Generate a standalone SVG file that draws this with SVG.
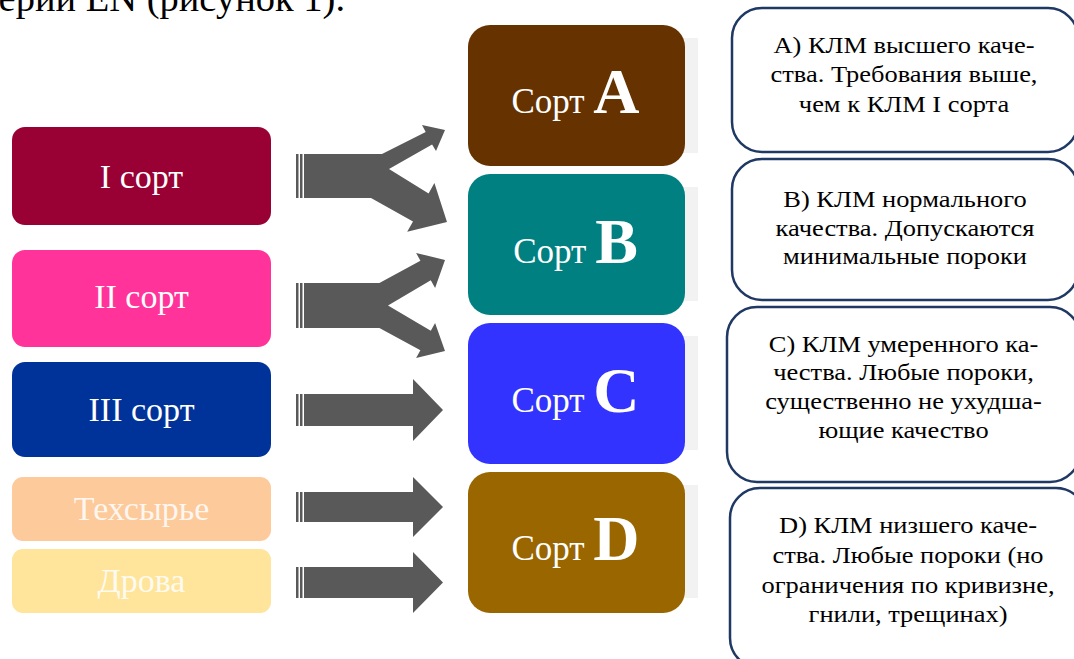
<svg xmlns="http://www.w3.org/2000/svg" width="1074" height="659" viewBox="0 0 1074 659">
<style>
  .t { font-family: "Liberation Serif", "Times New Roman", serif; }
  .src { font-size: 34px; fill: #ffffff; text-anchor: middle; }
  .srt { font-size: 35px; fill: #ffffff; text-anchor: middle; }
  .big { font-size: 64px; font-weight: bold; }
  .desc { font-size: 23px; fill: #000000; text-anchor: middle; }
  .dbox { fill: #ffffff; stroke: #1f3864; stroke-width: 2.5; }
  .shade { fill: #f2f2f2; }
  .arr { fill: #595959; }
</style>

<text class="t" x="-19" y="11" font-size="38.5" fill="#000">серии EN (рисунок 1).</text>

<g id="src-I">
  <rect x="12" y="127" width="259" height="98" rx="13" fill="#990033"/>
  <text class="t src" x="141.5" y="188">I сорт</text>
</g>
<g id="src-II">
  <rect x="12" y="250" width="259" height="97" rx="13" fill="#ff3399"/>
  <text class="t src" x="141.5" y="308">II сорт</text>
</g>
<g id="src-III">
  <rect x="12" y="362" width="259" height="95" rx="13" fill="#003399"/>
  <text class="t src" x="141.5" y="421">III сорт</text>
</g>
<g id="src-tech">
  <rect x="12" y="477" width="259" height="64" rx="11" fill="#fdca9b"/>
  <text class="t src" x="141.5" y="520" fill-opacity="0.85" font-size="35.5">Техсырье</text>
</g>
<g id="src-fire">
  <rect x="12" y="549" width="259" height="64" rx="11" fill="#fee59b"/>
  <text class="t src" x="141.5" y="592" fill-opacity="0.85">Дрова</text>
</g>

<g id="connectors" class="arr">
  <g id="arrow-I">
    <rect x="296" y="154" width="2.5" height="44"/>
    <rect x="300" y="154" width="2.5" height="44"/>
    <path d="M304,154 L382,154 L425.7,132 L422,125 L445,130 L436,151 L432.1,144.4 L389,169 L428.6,193.4 L434.4,183 L447,222 L407.2,231.8 L413,221.4 L371,198 L304,198 Z"/>
  </g>
  <g id="arrow-II">
    <rect x="296" y="283" width="2.5" height="45"/>
    <rect x="300" y="283" width="2.5" height="45"/>
    <path d="M304,283 L379.4,283 L420.4,260.8 L416.1,252.9 L445,260 L435.1,288.1 L430.8,280.2 L388,305.5 L430.8,330.8 L435.1,322.9 L445,351 L416.1,358.1 L420.4,350.2 L379.4,328 L304,328 Z"/>
  </g>
  <g id="arrow-III">
    <rect x="296" y="394" width="2.5" height="32"/>
    <rect x="300" y="394" width="2.5" height="32"/>
    <path d="M304,394 L413,394 L413,379 L443,410 L413,441 L413,426 L304,426 Z"/>
  </g>
  <g id="arrow-tech">
    <rect x="296" y="492" width="2.5" height="30"/>
    <rect x="300" y="492" width="2.5" height="30"/>
    <path d="M304,492 L413,492 L413,477 L443,507 L413,537 L413,522 L304,522 Z"/>
  </g>
  <g id="arrow-fire">
    <rect x="296" y="567" width="2.5" height="31"/>
    <rect x="300" y="567" width="2.5" height="31"/>
    <path d="M304,567 L413,567 L413,552 L443,582.5 L413,613 L413,598 L304,598 Z"/>
  </g>
</g>

<g id="sort-A">
  <rect class="shade" x="620" y="38" width="78" height="115"/>
  <rect x="468" y="25" width="217" height="141" rx="22" fill="#663300"/>
  <text class="t srt" x="575.5" y="113">Сорт <tspan class="big">A</tspan></text>
</g>
<g id="sort-B">
  <rect class="shade" x="620" y="187" width="78" height="114"/>
  <rect x="468" y="174" width="217" height="141" rx="22" fill="#008080"/>
  <text class="t srt" x="575.5" y="263">Сорт <tspan class="big">B</tspan></text>
</g>
<g id="sort-C">
  <rect class="shade" x="620" y="336" width="78" height="114"/>
  <rect x="468" y="323" width="217" height="141" rx="22" fill="#3333ff"/>
  <text class="t srt" x="575.5" y="412">Сорт <tspan class="big">C</tspan></text>
</g>
<g id="sort-D">
  <rect class="shade" x="620" y="485" width="78" height="113"/>
  <rect x="468" y="472" width="217" height="141" rx="22" fill="#996600"/>
  <text class="t srt" x="575.5" y="560">Сорт <tspan class="big">D</tspan></text>
</g>

<g id="desc-A">
  <rect class="dbox" x="732" y="8" width="346" height="144" rx="30"/>
  <text class="t desc" transform="translate(904,0) scale(1.15,1)"><tspan x="0" y="53">А) КЛМ высшего каче-</tspan><tspan x="0" y="82.5">ства. Требования выше,</tspan><tspan x="0" y="112">чем к КЛМ I сорта</tspan></text>
</g>
<g id="desc-B">
  <rect class="dbox" x="732" y="159" width="346" height="141" rx="30"/>
  <text class="t desc" transform="translate(905,0) scale(1.15,1)"><tspan x="0" y="207.5">В) КЛМ нормального</tspan><tspan x="0" y="236">качества. Допускаются</tspan><tspan x="0" y="264.5">минимальные пороки</tspan></text>
</g>
<g id="desc-C">
  <rect class="dbox" x="727" y="307" width="353" height="175" rx="30"/>
  <text class="t desc" transform="translate(903.5,0) scale(1.15,1)"><tspan x="0" y="352">С) КЛМ умеренного ка-</tspan><tspan x="0" y="380.5">чества. Любые пороки,</tspan><tspan x="0" y="409.5">существенно не ухудша-</tspan><tspan x="0" y="438">ющие качество</tspan></text>
</g>
<g id="desc-D">
  <rect class="dbox" x="730" y="488" width="356" height="180" rx="30"/>
  <text class="t desc" transform="translate(908,0) scale(1.15,1)"><tspan x="0" y="533">D) КЛМ низшего каче-</tspan><tspan x="0" y="563">ства. Любые пороки (но</tspan><tspan x="0" y="593">ограничения по кривизне,</tspan><tspan x="0" y="622">гнили, трещинах)</tspan></text>
</g>
</svg>
